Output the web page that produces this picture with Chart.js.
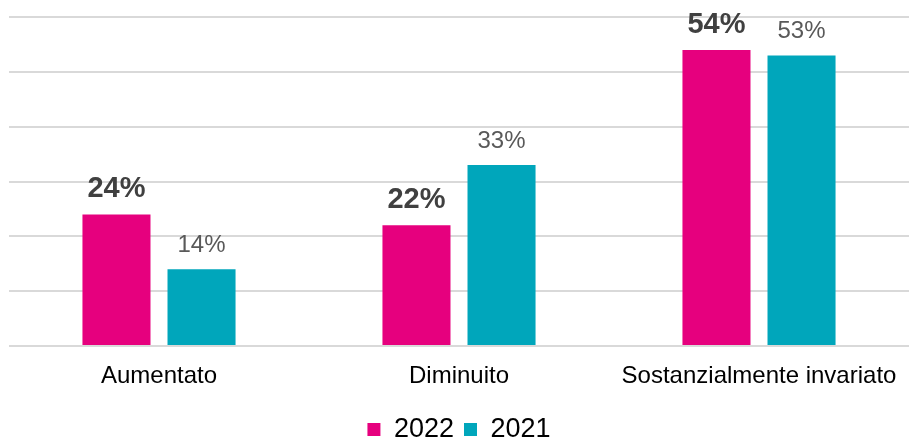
<!DOCTYPE html>
<html><head><meta charset="utf-8">
<script src="https://cdn.jsdelivr.net/npm/chart.js@4/dist/chart.umd.min.js"></script>
<style>html,body{margin:0;padding:0;background:#fff;}canvas{display:block;}</style>
</head><body>
<canvas id="c" width="909" height="439"></canvas>
<script>
const categories = ["Aumentato", "Diminuito", "Sostanzialmente invariato"];
const series2022 = [24, 22, 54];
const series2021 = [14, 33, 53];
const seriesNames = ["2022", "2021"];

const FONT = '"Liberation Sans", Arial, sans-serif';

const labelPlugin = {
  id: 'valLabels',
  afterDatasetsDraw(chart) {
    const ctx = chart.ctx;
    chart.data.datasets.forEach((ds, i) => {
      const meta = chart.getDatasetMeta(i);
      meta.data.forEach((el, j) => {
        ctx.save();
        ctx.font = (i === 0 ? 'bold 29px ' : '24px ') + FONT;
        ctx.fillStyle = i === 0 ? '#404040' : '#595959';
        ctx.textAlign = 'center';
        ctx.textBaseline = 'alphabetic';
        ctx.fillText(ds.data[j] + '%', el.x, el.y - 17);
        ctx.restore();
      });
    });
  }
};

new Chart(document.getElementById('c'), {
  type: 'bar',
  data: {
    labels: categories,
    datasets: [
      { label: seriesNames[0], data: series2022, backgroundColor: '#E6007E', categoryPercentage: 0.567, barPercentage: 0.8 },
      { label: seriesNames[1], data: series2021, backgroundColor: '#00A6BB', categoryPercentage: 0.567, barPercentage: 0.8 }
    ]
  },
  options: {
    responsive: false,
    animation: false,
    layout: { padding: { left: 9, right: 0, top: 17, bottom: -14 } },
    scales: {
      x: {
        grid: { display: false, drawTicks: false },
        border: { display: false },
        ticks: { color: '#000', font: { size: 24, family: FONT, lineHeight: 1.0 }, padding: 18 },
        afterFit(scale) { scale.paddingRight = 0; scale.paddingLeft = 0; }
      },
      y: {
        min: 0, max: 60,
        ticks: { display: false, stepSize: 10 },
        grid: { color: '#d9d9d9', lineWidth: 2, drawTicks: false },
        border: { display: false }
      }
    },
    plugins: {
      legend: {
        position: 'bottom',
        labels: { boxWidth: 13, boxHeight: 13, color: '#000', padding: 10, font: { size: 27, family: FONT } }
      },
      tooltip: { enabled: false }
    }
  },
  plugins: [labelPlugin]
});
</script>
</body></html>
